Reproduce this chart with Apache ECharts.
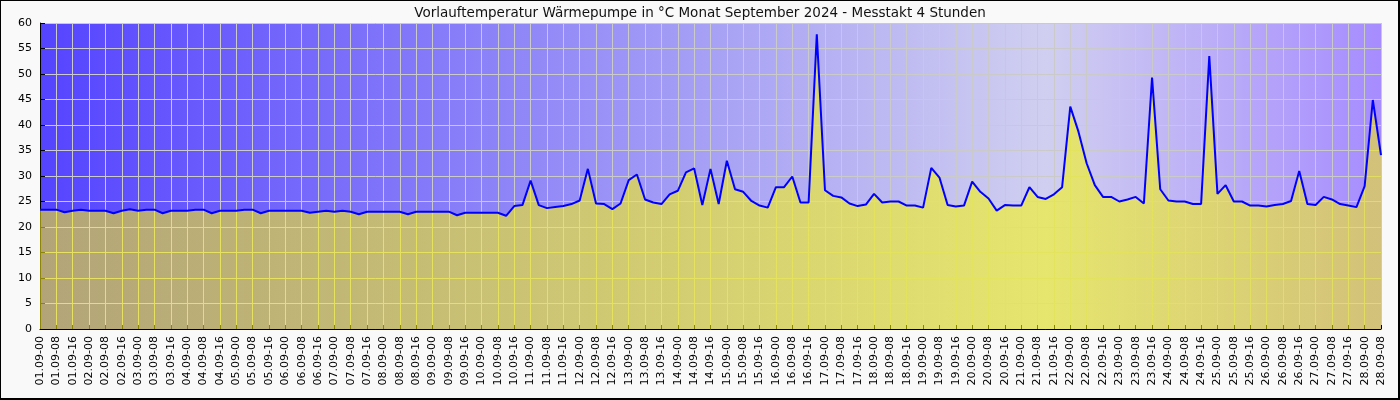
<!DOCTYPE html>
<html>
<head>
<meta charset="utf-8">
<script src="https://cdn.jsdelivr.net/npm/echarts@6/dist/echarts.min.js"></script>
<style>
html,body{margin:0;padding:0;background:#f9f9f9;}
#chart{width:1400px;height:400px;}
</style>
</head>
<body>
<div id="chart"></div>
<script>
var titleText = 'Vorlauftemperatur Wärmepumpe in °C Monat September 2024 - Messtakt 4 Stunden';

// categories: every 4 hours from 01.09-00 to 28.09-08
var days = [];
for (var d = 1; d <= 28; d++) days.push((d < 10 ? '0' : '') + d + '.09');
var hours = ['00', '04', '08', '12', '16', '20'];
var categories = [];
for (var di = 0; di < days.length; di++) {
  for (var hi = 0; hi < hours.length; hi++) {
    if (di === days.length - 1 && hi > 2) break;
    categories.push(days[di] + '-' + hours[hi]);
  }
}

var yTicks = [0, 60, 5]; // min, max, step

var temperature = [
  23.4, 23.4, 23.4, 22.9, 23.2, 23.4,
  23.2, 23.2, 23.2, 22.7, 23.2, 23.5,
  23.2, 23.4, 23.4, 22.7, 23.2, 23.2,
  23.2, 23.4, 23.4, 22.7, 23.2, 23.2,
  23.2, 23.4, 23.4, 22.7, 23.2, 23.2,
  23.2, 23.2, 23.2, 22.8, 23.0, 23.2,
  23.0, 23.2, 23.0, 22.5, 23.0, 23.0,
  23.0, 23.0, 23.0, 22.5, 23.0, 23.0,
  23.0, 23.0, 23.0, 22.3, 22.8, 22.8,
  22.8, 22.8, 22.8, 22.2, 24.1, 24.3,
  29.1, 24.3, 23.7, 23.9, 24.1, 24.5,
  25.2, 31.4, 24.6, 24.5, 23.5, 24.6,
  29.2, 30.3, 25.4, 24.8, 24.5, 26.4,
  27.1, 30.7, 31.5, 24.3, 31.4, 24.5,
  33.0, 27.4, 26.9, 25.1, 24.2, 23.8,
  27.8, 27.8, 29.9, 24.8, 24.8, 57.8,
  27.2, 26.1, 25.8, 24.6, 24.1, 24.4,
  26.5, 24.8, 25.0, 25.0, 24.2, 24.2,
  23.8, 31.6, 29.7, 24.3, 24.0, 24.2,
  28.9, 26.9, 25.6, 23.2, 24.3, 24.2,
  24.2, 27.8, 25.9, 25.5, 26.4, 27.8,
  43.6, 38.7, 32.5, 28.2, 25.9, 25.9,
  25.0, 25.4, 25.9, 24.6, 49.3, 27.4,
  25.2, 25.0, 25.0, 24.5, 24.5, 53.5,
  26.5, 28.2, 25.0, 25.0, 24.2, 24.2,
  24.0, 24.3, 24.5, 25.1, 31.0, 24.5,
  24.3, 25.9, 25.4, 24.5, 24.2, 23.9,
  28.0, 44.9, 34.1
];

var chart = echarts.init(document.getElementById('chart'), null, {renderer: 'canvas'});
var font = 'DejaVu Sans';
chart.setOption({
  backgroundColor: '#f9f9f9',
  animation: false,
  textStyle: {fontFamily: font},
  title: {
    text: titleText,
    left: 'center',
    top: 1,
    textStyle: {fontFamily: font, fontSize: 13.5, fontWeight: 'normal', color: '#111'}
  },
  graphic: [{
    type: 'rect',
    shape: {x: 0, y: 0, width: 1399, height: 399},
    style: {fill: 'none', stroke: '#000', lineWidth: 2},
    silent: true,
    z: 100
  }],
  grid: {
    left: 40, right: 19, top: 23, bottom: 71,
    show: true,
    borderWidth: 0,
    backgroundColor: {
      type: 'linear', x: 0, y: 0, x2: 1, y2: 0,
      colorStops: [
        {offset: 0, color: '#5544ff'},
        {offset: 0.75, color: '#d0cff0'},
        {offset: 1, color: '#a68cff'}
      ]
    }
  },
  xAxis: {
    type: 'category',
    data: categories,
    boundaryGap: false,
    axisLine: {show: true, lineStyle: {color: '#000', width: 1}},
    axisTick: {show: true, inside: true, length: 4, interval: 1, lineStyle: {color: '#000'}},
    axisLabel: {
      interval: 1, rotate: 90, margin: 7,
      fontFamily: font, fontSize: 11, color: '#000'
    },
    splitLine: {show: true, interval: 1, lineStyle: {color: '#cacaca', width: 1}}
  },
  yAxis: {
    type: 'value',
    min: yTicks[0], max: yTicks[1], interval: yTicks[2],
    axisLine: {show: true, lineStyle: {color: '#000', width: 1}},
    axisTick: {show: true, inside: true, length: 5, lineStyle: {color: '#000'}},
    axisLabel: {fontFamily: font, fontSize: 11, color: '#000', margin: 8},
    splitLine: {show: true, lineStyle: {color: '#cacaca', width: 1}}
  },
  series: [{
    type: 'line',
    data: temperature,
    symbol: 'none',
    lineStyle: {color: '#0000ff', width: 2},
    areaStyle: {
      opacity: 0.55,
      color: {
        type: 'linear', x: 0, y: 0, x2: 1, y2: 0,
        colorStops: [
          {offset: 0, color: '#fff30a'},
          {offset: 0.75, color: '#f8f804'},
          {offset: 1, color: '#f6ed0d'}
        ]
      }
    }
  }]
});
</script>
</body>
</html>
